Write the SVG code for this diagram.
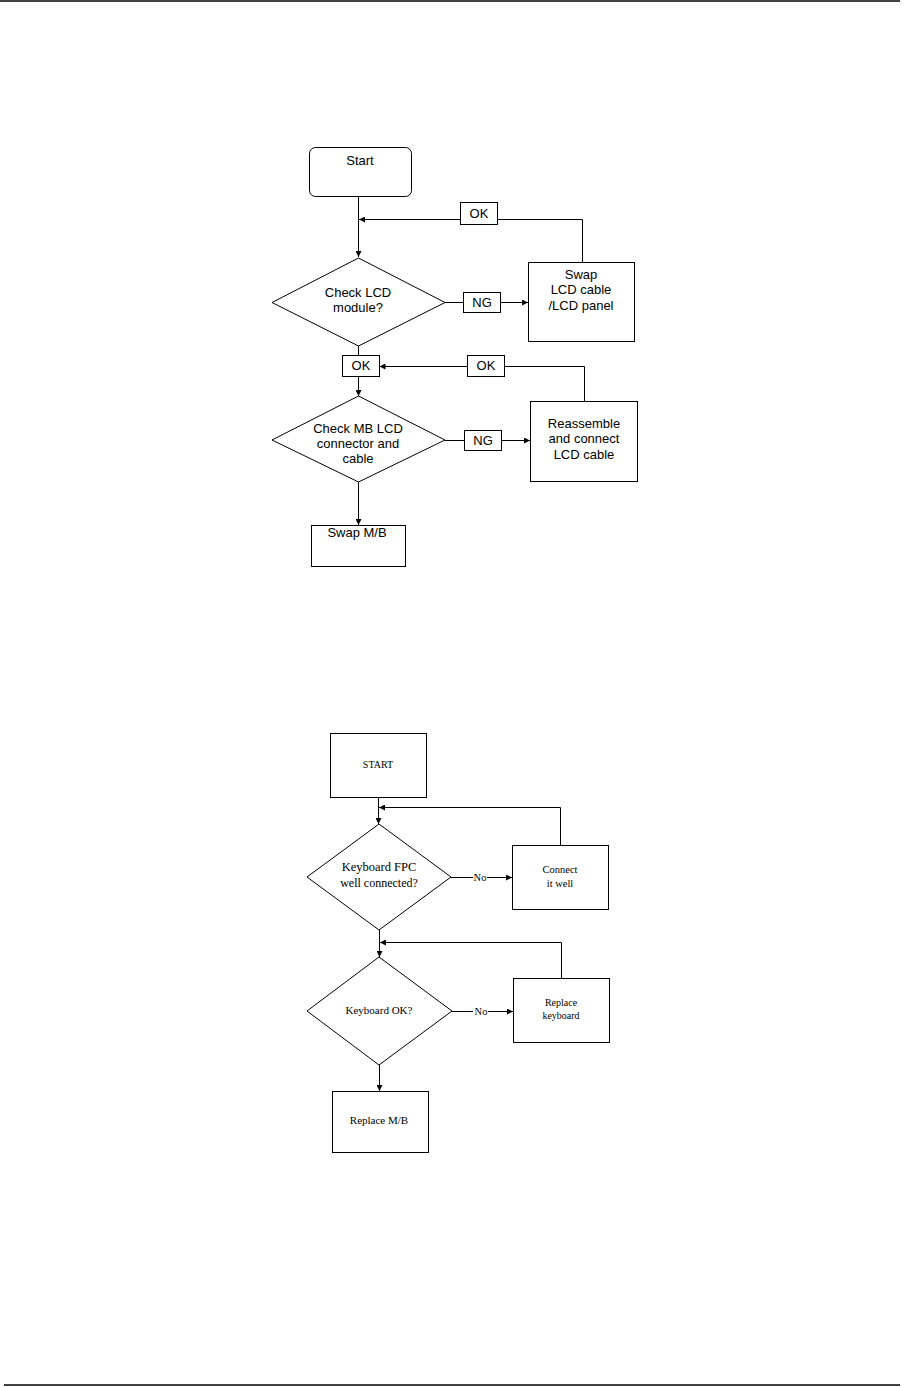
<svg xmlns="http://www.w3.org/2000/svg" width="912" height="1387" viewBox="0 0 912 1387">
<defs>
<marker id="ah" markerUnits="userSpaceOnUse" markerWidth="7" markerHeight="6" refX="6" refY="3" orient="auto"><path d="M0,0 L6,3 L0,6 z" fill="#000"/></marker>
<style>
.s{fill:#fff;stroke:#000;stroke-width:1}
.c{fill:none;stroke:#000;stroke-width:1}
.a{font-family:"Liberation Sans",Arial,sans-serif;font-size:13px;text-anchor:middle;fill:#000}
.t{font-family:"Liberation Serif","Times New Roman",serif;text-anchor:middle;fill:#000}
</style>
</defs>
<rect width="912" height="1387" fill="#fff"/>
<line x1="0" y1="1" x2="900" y2="1" stroke="#000" stroke-width="1.5"/>
<line x1="4" y1="1385" x2="900" y2="1385" stroke="#000" stroke-width="1.5"/>

<g id="connectors">
<path class="c" d="M358.5 196 V257" marker-end="url(#ah)"/>
<path class="c" d="M582.5 262 V219.5 H497.5"/>
<path class="c" d="M460.5 219.5 H359" marker-end="url(#ah)"/>
<path class="c" d="M445 302.5 H463.5"/>
<path class="c" d="M500.5 302.5 H528" marker-end="url(#ah)"/>
<path class="c" d="M358.5 346 V355.5"/>
<path class="c" d="M358.5 376.5 V396" marker-end="url(#ah)"/>
<path class="c" d="M584.5 401.5 V366.5 H504.5"/>
<path class="c" d="M467.5 366.5 H379.5" marker-end="url(#ah)"/>
<path class="c" d="M445 440.5 H464.5"/>
<path class="c" d="M501.5 440.5 H530" marker-end="url(#ah)"/>
<path class="c" d="M358.5 482 V525" marker-end="url(#ah)"/>

<path class="c" d="M378.5 797.5 V824" marker-end="url(#ah)"/>
<path class="c" d="M560.5 845 V807.5 H379" marker-end="url(#ah)"/>
<path class="c" d="M451 877.5 H473"/>
<path class="c" d="M487 877.5 H512" marker-end="url(#ah)"/>
<path class="c" d="M379.5 930 V957" marker-end="url(#ah)"/>
<path class="c" d="M561.5 978 V942.5 H380" marker-end="url(#ah)"/>
<path class="c" d="M452 1011.5 H473"/>
<path class="c" d="M488 1011.5 H513" marker-end="url(#ah)"/>
<path class="c" d="M379.5 1065 V1091" marker-end="url(#ah)"/>
</g>

<g id="start1"><rect class="s" x="309.5" y="147.5" width="102" height="49" rx="6"/><text class="a" x="360" y="165">Start</text></g>
<g id="ok-top"><rect class="s" x="460.5" y="202.5" width="37" height="22"/><text class="a" x="479" y="218">OK</text></g>
<g id="check-lcd"><polygon class="s" points="358.5,258 445,302.5 358.5,346 272,302.5"/><text class="a" x="358" y="297">Check LCD</text><text class="a" x="358" y="312">module?</text></g>
<g id="ng1"><rect class="s" x="463.5" y="292.5" width="37" height="20"/><text class="a" x="482" y="307">NG</text></g>
<g id="swap-lcd"><rect class="s" x="528.5" y="262.5" width="106" height="79"/><text class="a" x="581" y="279">Swap</text><text class="a" x="581" y="294">LCD cable</text><text class="a" x="581" y="310">/LCD panel</text></g>
<g id="ok-mid"><rect class="s" x="342.5" y="355.5" width="37" height="21"/><text class="a" x="361" y="370">OK</text></g>
<g id="ok-right"><rect class="s" x="467.5" y="355.5" width="37" height="21"/><text class="a" x="486" y="370">OK</text></g>
<g id="check-mb"><polygon class="s" points="358.5,396 445,440 358.5,482 272,440"/><text class="a" x="358" y="433">Check MB LCD</text><text class="a" x="358" y="448">connector and</text><text class="a" x="358" y="463">cable</text></g>
<g id="ng2"><rect class="s" x="464.5" y="430.5" width="37" height="20"/><text class="a" x="483" y="445">NG</text></g>
<g id="reassemble"><rect class="s" x="530.5" y="401.5" width="107" height="80"/><text class="a" x="584" y="428">Reassemble</text><text class="a" x="584" y="443">and connect</text><text class="a" x="584" y="459">LCD cable</text></g>
<g id="swap-mb"><rect class="s" x="311.5" y="525.5" width="94" height="41"/><text class="a" x="357" y="537">Swap M/B</text></g>

<g id="start2"><rect class="s" x="330.5" y="733.5" width="96" height="64"/><text class="t" x="378" y="768" font-size="10">START</text></g>
<g id="kb-fpc"><polygon class="s" points="379,824 451,877 379,930 307,877"/><text class="t" x="379" y="871" font-size="12.5">Keyboard FPC</text><text class="t" x="379" y="887" font-size="12">well connected?</text></g>
<g id="no1"><text class="t" x="480" y="881" font-size="10.5">No</text></g>
<g id="connect"><rect class="s" x="512.5" y="845.5" width="96" height="64"/><text class="t" x="560" y="873" font-size="10.5">Connect</text><text class="t" x="560" y="887" font-size="10.5">it well</text></g>
<g id="kb-ok"><polygon class="s" points="379,957 452,1011 379,1065 307,1011"/><text class="t" x="379" y="1014" font-size="11">Keyboard OK?</text></g>
<g id="no2"><text class="t" x="481" y="1015" font-size="10.5">No</text></g>
<g id="replace-kb"><rect class="s" x="513.5" y="978.5" width="96" height="64"/><text class="t" x="561" y="1006" font-size="10">Replace</text><text class="t" x="561" y="1019" font-size="10">keyboard</text></g>
<g id="replace-mb"><rect class="s" x="332.5" y="1091.5" width="96" height="61"/><text class="t" x="379" y="1124" font-size="11">Replace M/B</text></g>
</svg>
